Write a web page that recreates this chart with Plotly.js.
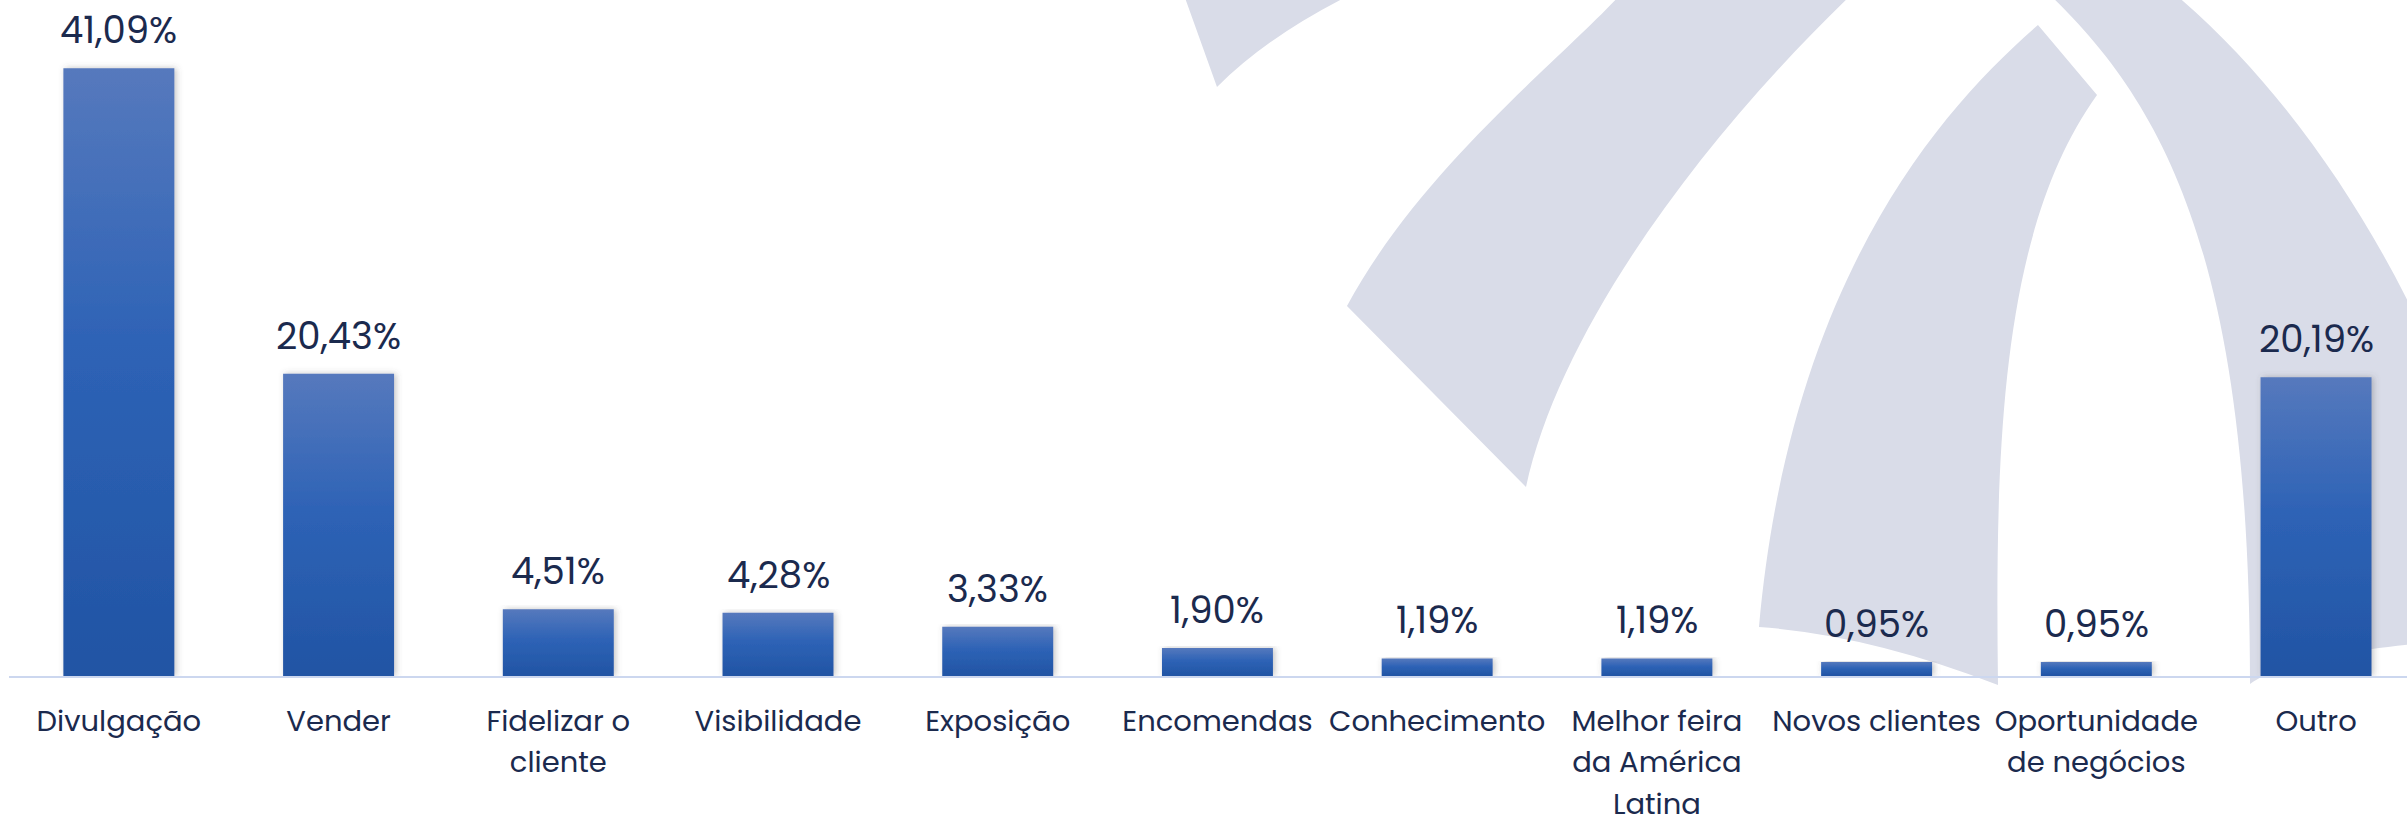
<!DOCTYPE html>
<html>
<head>
<meta charset="utf-8">
<script src="https://cdn.plot.ly/plotly-3.0.1.min.js"></script>
<style>
  html, body { margin: 0; padding: 0; background: #ffffff; overflow: hidden; }
  #chart { width: 2407px; height: 826px; }
</style>
</head>
<body>
<div id="chart"></div>
<script>
// ---- Data ----
const categories = ['Divulgação', 'Vender', 'Fidelizar o cliente', 'Visibilidade', 'Exposição',
  'Encomendas', 'Conhecimento', 'Melhor feira da América Latina', 'Novos clientes',
  'Oportunidade de negócios', 'Outro'];
const tickLabels = ['Divulgação', 'Vender', 'Fidelizar o<br>cliente', 'Visibilidade', 'Exposição',
  'Encomendas', 'Conhecimento', 'Melhor feira<br>da América<br>Latina', 'Novos clientes',
  'Oportunidade<br>de negócios', 'Outro'];
const values = [41.09, 20.43, 4.51, 4.28, 3.33, 1.90, 1.19, 1.19, 0.95, 0.95, 20.19];

// ---- Styling ----
const W = 2407, H = 826;
const M = { l: 9, r: 0, t: 0, b: 150 };
const textColor = '#1B2A4E';
const fontFamily = 'Poppins, "Open Sans", sans-serif';
const wmColor = '#D9DCE8';

// watermark paths written in pixel space, converted to paper space
function toPaper(path) {
  const pw = W - M.l - M.r, ph = H - M.t - M.b;
  return path.replace(/(-?[\d.]+),(-?[\d.]+)/g, (m, x, y) => {
    const px = (parseFloat(x) - M.l) / pw;
    const py = (H - M.b - parseFloat(y)) / ph;
    return px.toFixed(5) + ',' + py.toFixed(5);
  });
}
const wmPaths = [
  'M1184,-5 L1217,87 Q1268,36 1350,-5 Z',
  'M1620,-5 C1560,60 1420,170 1347,306 L1526,487 C1560,330 1700,140 1851,-5 Z',
  'M2038,25 C1940,110 1790,280 1759,627 Q1870,635 1998,685 C1995,450 2000,230 2097,95 Z',
  'M2050,-5 C2170,110 2250,270 2250,684 C2280,662 2350,648 2460,640 L2460,420 C2400,260 2300,100 2176,-5 Z'
];
const shapes = wmPaths.map(p => ({
  type: 'path', xref: 'paper', yref: 'paper', layer: 'below',
  path: toPaper(p), fillcolor: wmColor, line: { width: 0 }
}));

const fmt = v => v.toFixed(2).replace('.', ',') + '%';
const annotations = categories.map((c, i) => ({
  x: c, y: values[i], xref: 'x', yref: 'y',
  text: fmt(values[i]), showarrow: false,
  yanchor: 'bottom', xanchor: 'center', yshift: 10,
  font: { family: fontFamily, size: 37, color: textColor }
}));

const trace = {
  type: 'bar',
  x: categories,
  y: values,
  marker: { color: '#2B5FB2', line: { width: 0 } },
  hoverinfo: 'none'
};

const layout = {
  width: W, height: H,
  margin: M,
  paper_bgcolor: 'rgba(0,0,0,0)',
  plot_bgcolor: 'rgba(0,0,0,0)',
  showlegend: false,
  bargap: 0.495,
  xaxis: {
    type: 'category',
    range: [-0.5, 10.414],
    tickvals: categories,
    ticktext: tickLabels,
    showline: true, linecolor: '#CCD7EF', linewidth: 2,
    showgrid: false, zeroline: false,
    ticks: '', ticklen: 0,
    ticklabelstandoff: 18,
    tickfont: { family: fontFamily, size: 29, color: textColor },
    fixedrange: true
  },
  yaxis: {
    range: [0, 45.7],
    visible: false, showgrid: false, zeroline: false,
    fixedrange: true
  },
  shapes: shapes,
  annotations: annotations
};

Plotly.newPlot('chart', [trace], layout, { displayModeBar: false, staticPlot: true }).then(gd => {
  const svg = gd.querySelector('svg.main-svg');
  const ns = 'http://www.w3.org/2000/svg';
  const defs = document.createElementNS(ns, 'defs');
  defs.innerHTML =
    '<linearGradient id="barGrad" x1="0" y1="0" x2="0" y2="1">' +
      '<stop offset="0" stop-color="#5679BD"/>' +
      '<stop offset="0.45" stop-color="#2E63B6"/>' +
      '<stop offset="1" stop-color="#2154A4"/>' +
    '</linearGradient>' +
    '<filter id="barShadow" x="-20%" y="-5%" width="140%" height="110%">' +
      '<feDropShadow dx="2" dy="0" stdDeviation="3" flood-color="#555" flood-opacity="0.35"/>' +
    '</filter>';
  svg.insertBefore(defs, svg.firstChild);
  gd.querySelectorAll('.barlayer .point path').forEach(p => {
    p.style.fill = 'url(#barGrad)';
    p.style.filter = 'url(#barShadow)';
  });
  // widen line spacing of multi-line category labels (reference ~42px per line)
  const k = 41.5 / (1.3 * 29);
  gd.querySelectorAll('.xtick text tspan.line').forEach(t => {
    const dy = t.getAttribute('dy');
    if (dy && /em$/.test(dy)) t.setAttribute('dy', (parseFloat(dy) * k).toFixed(3) + 'em');
  });
});
</script>
</body>
</html>
